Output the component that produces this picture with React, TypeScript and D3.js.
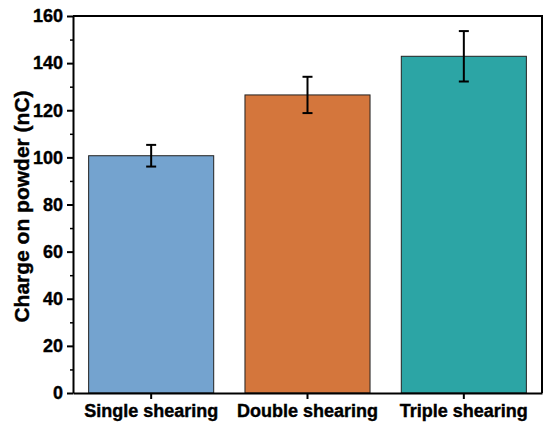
import React, { useRef, useEffect } from "react";
import * as d3 from "d3";

const categories = ["Single shearing", "Double shearing", "Triple shearing"];
const charges = [100.7, 126.5, 142.9];
const errors = [4.6, 7.7, 10.7];
const barColors = ["#74A3CF", "#D4763C", "#2CA5A5"];
const yTicks = [0, 20, 40, 60, 80, 100, 120, 140, 160];

const App: React.FC = () => {
  const ref = useRef<SVGSVGElement>(null);

  useEffect(() => {
    if (!ref.current) return;
    const svg = d3.select(ref.current);
    svg.selectAll("*").remove();

    const margin = { top: 16, right: 8, bottom: 32, left: 73 };
    const width = 550 - margin.left - margin.right;
    const height = 425 - margin.top - margin.bottom;
    const font = "Arial, 'Liberation Sans', sans-serif";

    const x = d3.scaleBand().domain(categories).range([0, width])
      .paddingInner(0.2).paddingOuter(0.1);
    const y = d3.scaleLinear().domain([0, 160]).range([height, 0]);

    const g = svg.append("g").attr("transform", `translate(${margin.left},${margin.top})`);

    // bars
    g.selectAll(".bar")
      .data(charges)
      .join("rect")
      .attr("class", "bar")
      .attr("x", (d, i) => x(categories[i])!)
      .attr("y", (d) => y(d))
      .attr("width", x.bandwidth())
      .attr("height", (d) => height - y(d))
      .attr("fill", (d, i) => barColors[i])
      .attr("stroke", "#222")
      .attr("stroke-width", 1);

    // error bars
    const eb = g.selectAll(".err").data(charges).join("g").attr("class", "err")
      .attr("transform", (d, i) => `translate(${x(categories[i])! + x.bandwidth() / 2},0)`);
    eb.append("line")
      .attr("y1", (d, i) => y(d + errors[i]))
      .attr("y2", (d, i) => y(d - errors[i]))
      .attr("stroke", "#000").attr("stroke-width", 2);
    eb.append("line")
      .attr("x1", -5).attr("x2", 5)
      .attr("y1", (d, i) => y(d + errors[i])).attr("y2", (d, i) => y(d + errors[i]))
      .attr("stroke", "#000").attr("stroke-width", 2);
    eb.append("line")
      .attr("x1", -5).attr("x2", 5)
      .attr("y1", (d, i) => y(d - errors[i])).attr("y2", (d, i) => y(d - errors[i]))
      .attr("stroke", "#000").attr("stroke-width", 2);

    // minor y ticks
    g.append("g")
      .call(d3.axisLeft(y).tickValues(d3.range(10, 160, 20)).tickSize(3).tickFormat(() => ""))
      .call((a) => a.select(".domain").remove())
      .call((a) => a.selectAll("line").attr("stroke-width", 1.5));

    const boldText = (sel: any, size: number) =>
      sel.attr("font-family", font).attr("font-weight", "bold").attr("font-size", size)
        .attr("fill", "#000").attr("stroke", "#000").attr("stroke-width", 0.4);

    // y axis
    g.append("g")
      .call(d3.axisLeft(y).tickValues(yTicks).tickSize(6).tickPadding(4).tickSizeOuter(0))
      .call((a) => a.select(".domain").attr("stroke-width", 2))
      .call((a) => a.selectAll("line").attr("stroke-width", 2))
      .call((a) => boldText(a.selectAll("text"), 18));

    // x axis
    g.append("g")
      .attr("transform", `translate(0,${height})`)
      .call(d3.axisBottom(x).tickSize(6).tickPadding(5).tickSizeOuter(0))
      .call((a) => a.select(".domain").attr("stroke-width", 2))
      .call((a) => a.selectAll("line").attr("stroke-width", 2))
      .call((a) => boldText(a.selectAll("text"), 18));

    // top and right frame
    g.append("path")
      .attr("d", `M0,0H${width}V${height}`)
      .attr("fill", "none").attr("stroke", "#000").attr("stroke-width", 2);

    // y label
    boldText(svg.append("text")
      .attr("transform", `translate(29,${margin.top + height / 2 + 2}) rotate(-90)`)
      .attr("text-anchor", "middle"), 21)
      .text("Charge on powder (nC)");
  }, []);

  return (
    <svg ref={ref} width={550} height={425}
      style={{ position: "absolute", left: 0, top: 0, background: "#fff" }} />
  );
};

export default App;
